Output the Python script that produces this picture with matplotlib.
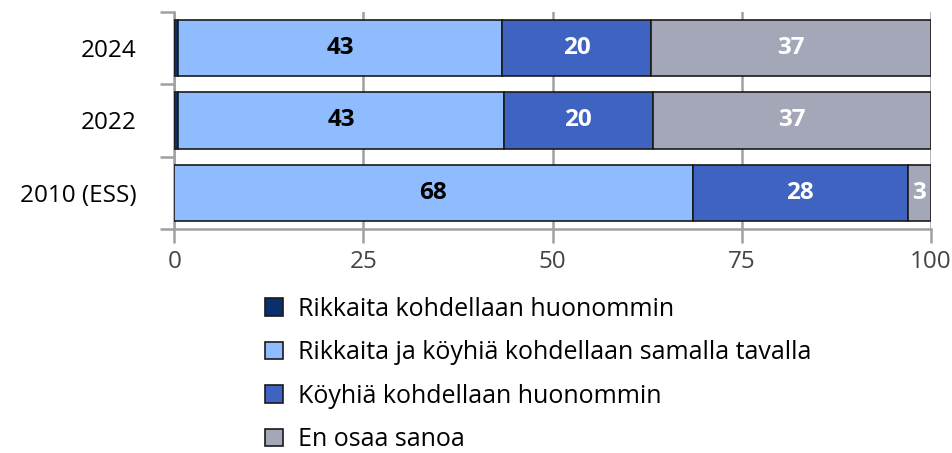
import matplotlib.pyplot as plt
from matplotlib.patches import Patch

plt.rcParams['font.family'] = ['Open Sans', 'DejaVu Sans']

# data
years = ["2024", "2022", "2010 (ESS)"]
rikkaat_huonommin = [0.5, 0.5, 0.0]
samalla_tavalla = [42.8, 43.1, 68.5]
koyhat_huonommin = [19.7, 19.6, 28.4]
en_osaa = [37.0, 36.8, 3.1]
series_names = ["Rikkaita kohdellaan huonommin",
                "Rikkaita ja köyhiä kohdellaan samalla tavalla",
                "Köyhiä kohdellaan huonommin",
                "En osaa sanoa"]
colors = ["#0b2f6b", "#8fbcff", "#3f63c0", "#a4a7b8"]
label_colors = [None, "black", "white", "white"]
x_ticks = [0, 25, 50, 75, 100]

series = [rikkaat_huonommin, samalla_tavalla, koyhat_huonommin, en_osaa]

fig = plt.figure(figsize=(9.52, 4.53), dpi=100)
ax = fig.add_axes([0.183, 0.4945, 0.795, 0.479])

ypos = list(range(len(years)))
left = [0.0] * len(years)
for vals, color, name, lc in zip(series, colors, series_names, label_colors):
    bars = ax.barh(ypos, vals, left=left, height=0.78, color=color,
                   edgecolor="#1a1a1a", linewidth=1.2, label=name, zorder=3)
    if lc is not None:
        for b, v in zip(bars, vals):
            if v >= 2:
                ax.text(b.get_x() + b.get_width() / 2, b.get_y() + b.get_height() / 2,
                        f"{v:.0f}", ha="center", va="center", color=lc,
                        fontsize=17.5, fontweight="bold", zorder=4)
    left = [l + v for l, v in zip(left, vals)]

ax.set_xlim(0, 100)
ax.set_ylim(len(years) - 0.5, -0.5)
ax.set_xticks(x_ticks)
ax.set_xticklabels([str(t) for t in x_ticks], color="#444444", fontsize=17.5)
ax.set_yticks(ypos)
ax.set_yticklabels(years, fontsize=17.5)
ax.set_yticks([-0.5, 0.5, 1.5, 2.5], minor=True)

ax.tick_params(axis="y", which="major", length=0, pad=27)
ax.tick_params(axis="y", which="minor", length=10, width=1.8, color="#a0a0a0")
ax.tick_params(axis="x", length=10, width=1.8, color="#a0a0a0", pad=5)

ax.grid(axis="x", color="#a0a0a0", linewidth=1.8, zorder=0)
for s in ["top", "right"]:
    ax.spines[s].set_visible(False)
for s in ["left", "bottom"]:
    ax.spines[s].set_color("#a0a0a0")
    ax.spines[s].set_linewidth(1.8)

handles = [Patch(facecolor=c, edgecolor="#1a1a1a", linewidth=1.2) for c in colors]
fig.legend(handles, series_names, loc="upper left", bbox_to_anchor=(0.268, 0.367),
           frameon=False, fontsize=18, handlelength=0.72, handleheight=0.72,
           handletextpad=0.6, labelspacing=0.74, borderaxespad=0)

fig.savefig("out.png", dpi=100)
